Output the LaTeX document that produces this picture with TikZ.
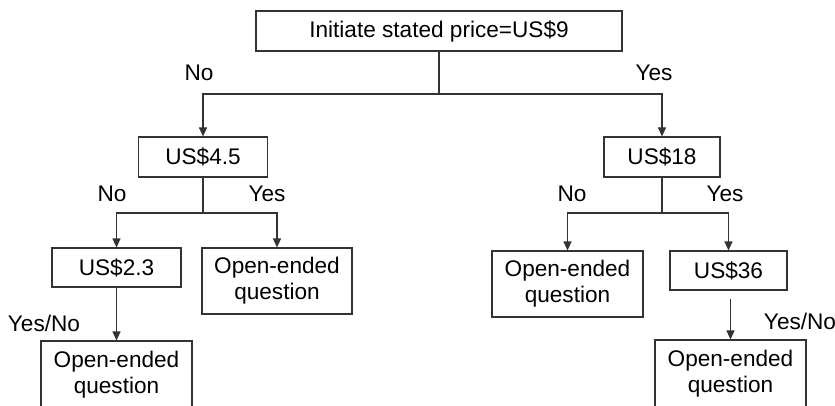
\documentclass[tikz,border=0pt]{standalone}
\usepackage{fontspec}
\setmainfont{Liberation Sans}
\usetikzlibrary{arrows.meta}
\tikzset{
  box/.style={draw=black!80, line width=1.1pt, inner sep=0pt, align=center},
  link/.style={draw=black!80, line width=1.1pt},
  arr/.style={link, -{Triangle[length=9pt,width=8pt]}},
  lbl/.style={inner sep=0pt}
}
\begin{document}
\begin{tikzpicture}[x=1pt, y=-1pt, font=\fontsize{22.6}{26}\selectfont]
  	\useasboundingbox (0,0) rectangle (835,406);
  	\clip (0,0) rectangle (835,406);
  	% boxes
  	\node[box, minimum width=366pt, minimum height=40pt] (top) at (439,31) {Initiate stated price=US\$9};
  	\node[box, minimum width=129pt, minimum height=40pt] (p45) at (203,157) {US\$4.5};
  	\node[box, minimum width=116pt, minimum height=40pt] (p18) at (662,157) {US\$18};
  	\node[box, minimum width=129pt, minimum height=39pt] (p23) at (116.5,267.5) {US\$2.3};
  	\node[box, minimum width=150pt, minimum height=66pt] (oqA) at (277,281) {Open-ended\\question};
  	\node[box, minimum width=151pt, minimum height=66pt] (oqB) at (567.5,284) {Open-ended\\question};
  	\node[box, minimum width=117pt, minimum height=39pt] (p36) at (728.5,270.5) {US\$36};
  	\node[box, minimum width=151pt, minimum height=68pt] (oqC) at (116.5,375) {Open-ended\\question};
  	\node[box, minimum width=151pt, minimum height=68pt] (oqD) at (730.5,374) {Open-ended\\question};
  	% junctions
  	\coordinate (j1) at (439,94);
  	\coordinate (j2) at (203,213);
  	\coordinate (j3) at (662,213);
  	% connectors
  	\draw[link] (top) -- (j1);
  	\draw[arr] (j1) -| (p45);
  	\draw[arr] (j1) -| (p18);
  	\draw[link] (p45) -- (j2);
  	\draw[arr] (j2) -| (p23);
  	\draw[arr] (j2) -| (oqA);
  	\draw[link] (p18) -- (j3);
  	\draw[arr] (j3) -| (oqB);
  	\draw[arr] (j3) -| (p36);
  	\draw[arr] (p23) -- (oqC);
  	\draw[arr, shorten <=8pt] (p36.south -| oqD.north) -- (oqD.north);
  	% labels
  	\foreach \n/\x/\y/\t in {a/199/72.5/No, b/654/72.5/Yes, c/112/194/No, d/267/194/Yes, e/572/194/No, f/725/194/Yes, g/44/323/Yes\slash No, h/800/321/Yes\slash No}
  	{
  		\node[lbl] (lbl\n) at (\x,\y) {\t};
  	}
\end{tikzpicture}
\end{document}
